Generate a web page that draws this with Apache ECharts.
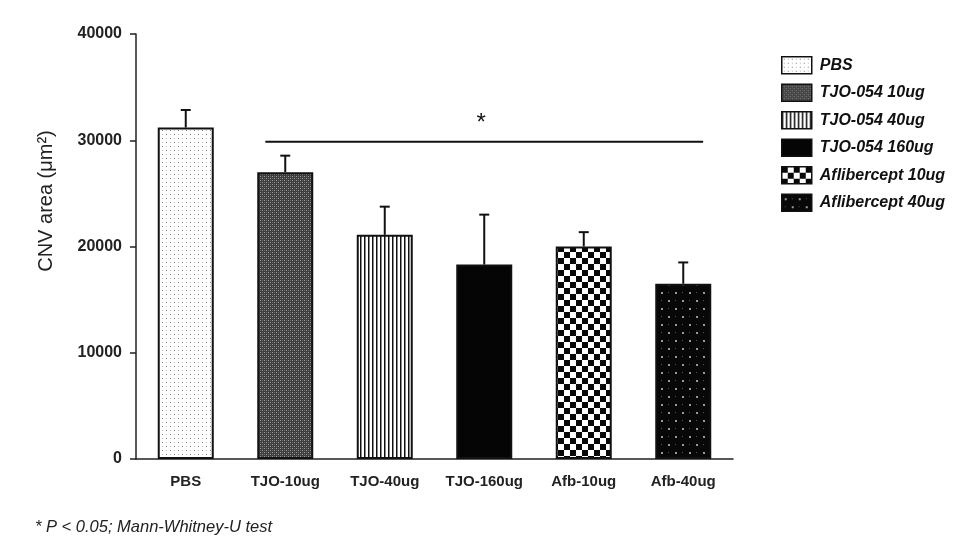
<!DOCTYPE html>
<html>
<head>
<meta charset="utf-8">
<script src="https://cdn.jsdelivr.net/npm/echarts@6/dist/echarts.min.js"></script>
<style>
html,body{margin:0;padding:0;background:#fff;}
#chart{width:970px;height:549px;}
</style>
</head>
<body>
<div id="chart"></div>
<script>
// ---- data ----
const categories = ['PBS', 'TJO-10ug', 'TJO-40ug', 'TJO-160ug', 'Afb-10ug', 'Afb-40ug'];
const seriesNames = ['PBS', 'TJO-054 10ug', 'TJO-054 40ug', 'TJO-054 160ug', 'Aflibercept 10ug', 'Aflibercept 40ug'];
const means = [31200, 27000, 21100, 18300, 20000, 16500];
const errors = [1650, 1550, 2650, 4700, 1350, 2000];
const yTicks = [0, 10000, 20000, 30000, 40000];
const sigFrom = 'TJO-10ug';
const sigTo = 'Afb-40ug';
const sigValue = 29850;
const sigLabel = '*';
const footnote = '* P < 0.05; Mann-Whitney-U test';
const yAxisTitle = 'CNV area (\u03bcm\u00b2)';

// ---- patterns ----
function tile(w, h, draw) {
  const c = document.createElement('canvas');
  c.width = w; c.height = h;
  const g = c.getContext('2d');
  draw(g);
  return { image: c, repeat: 'repeat' };
}
const patterns = [
  tile(8, 8, g => { g.fillStyle = '#fff'; g.fillRect(0,0,8,8); g.fillStyle = '#7a7a7a'; g.fillRect(2,2,1,1); g.fillRect(6,6,1,1); g.fillStyle='#bbb'; g.fillRect(6,2,1,1); g.fillRect(2,6,1,1);}),
  tile(4, 4, g => { g.fillStyle = '#3e3e3e'; g.fillRect(0,0,4,4); g.fillStyle = '#9a9a9a'; g.fillRect(0,0,1,1); g.fillRect(2,2,1,1); g.fillStyle='#6a6a6a'; g.fillRect(2,0,1,1); g.fillRect(0,2,1,1);}),
  tile(4, 4, g => { g.fillStyle = '#fff'; g.fillRect(0,0,4,4); g.fillStyle = '#111'; g.fillRect(0,0,1,4); g.fillStyle = '#888'; g.fillRect(1,0,1,4);}),
  '#050505',
  tile(12, 12, g => { g.fillStyle = '#fff'; g.fillRect(0,0,12,12); g.fillStyle = '#080808'; g.fillRect(0,0,6,6); g.fillRect(6,6,6,6);}),
  tile(14, 16, g => { g.fillStyle = '#080808'; g.fillRect(0,0,14,16); g.fillStyle = '#9a9a9a'; g.fillRect(3,4,2,2); g.fillRect(10,12,2,2); g.fillStyle='#555'; g.fillRect(10,4,1,1); g.fillRect(3,12,1,1);})
];

const FONT = 'Liberation Sans, Arial, sans-serif';

const barSeries = seriesNames.map((name, i) => ({
  name: name,
  type: 'bar',
  barWidth: 56,
  barGap: '-100%',
  data: categories.map((c, j) => (j === i ? means[i] : null)),
  itemStyle: { color: patterns[i], borderColor: '#111', borderWidth: 2 },
  emphasis: { disabled: true },
  z: 2
}));

const errorSeries = {
  type: 'custom',
  name: 'err',
  z: 3,
  data: categories.map((c, i) => [i, means[i], errors[i]]),
  encode: { x: 0, y: 1 },
  renderItem: function (params, api) {
    const x = api.value(0), m = api.value(1), e = api.value(2);
    const p0 = api.coord([x, m]);
    const p1 = api.coord([x, m + e]);
    const cap = 5;
    const st = { stroke: '#111', lineWidth: 2 };
    return {
      type: 'group',
      children: [
        { type: 'line', shape: { x1: p0[0], y1: p0[1], x2: p1[0], y2: p1[1] }, style: st },
        { type: 'line', shape: { x1: p1[0] - cap, y1: p1[1], x2: p1[0] + cap, y2: p1[1] }, style: st }
      ]
    };
  }
};

const sigSeries = {
  type: 'custom',
  name: 'sig',
  z: 3,
  data: [[categories.indexOf(sigFrom), categories.indexOf(sigTo), sigValue]],
  encode: { x: [0, 1], y: 2 },
  renderItem: function (params, api) {
    const a = api.coord([api.value(0), api.value(2)]);
    const b = api.coord([api.value(1), api.value(2)]);
    const band = api.size([1, 0])[0];
    const x1 = a[0] - band * 0.2, x2 = b[0] + band * 0.2;
    return {
      type: 'group',
      children: [
        { type: 'line', shape: { x1: x1, y1: a[1], x2: x2, y2: a[1] }, style: { stroke: '#111', lineWidth: 2 } },
        { type: 'text', x: (x1 + x2) / 2 - 3, y: a[1] - 6, style: { text: sigLabel, font: '24px ' + FONT, fill: '#111', align: 'center', verticalAlign: 'bottom' } }
      ]
    };
  }
};

const chart = echarts.init(document.getElementById('chart'));
chart.setOption({
  animation: false,
  backgroundColor: '#fff',
  textStyle: { fontFamily: FONT },
  grid: { left: 136, right: 237, top: 34, bottom: 90 },
  legend: {
    data: seriesNames.map(n => ({ name: n, icon: 'rect' })),
    orient: 'vertical',
    left: 781,
    top: 56,
    padding: 0,
    itemWidth: 30,
    itemHeight: 17,
    itemGap: 9,
    selectedMode: false,
    textStyle: { fontSize: 16, fontStyle: 'italic', fontWeight: 'bold', color: '#111', fontFamily: FONT, padding: [0, 0, 0, 3] },
    itemStyle: { borderColor: '#111', borderWidth: 1.5 }
  },
  xAxis: {
    type: 'category',
    data: categories,
    axisLine: { lineStyle: { color: '#222', width: 1.5 } },
    axisTick: { show: false },
    axisLabel: { interval: 0, fontSize: 15, fontWeight: 'bold', color: '#222', margin: 15 },
    splitLine: { show: false }
  },
  yAxis: {
    type: 'value',
    min: yTicks[0],
    max: yTicks[yTicks.length - 1],
    interval: yTicks[1] - yTicks[0],
    axisLine: { show: true, lineStyle: { color: '#222', width: 1.5 } },
    axisTick: { show: true, length: 6, lineStyle: { color: '#222', width: 1.5 } },
    axisLabel: { fontSize: 16, fontWeight: 'bold', color: '#222', margin: 14, formatter: v => String(v) },
    splitLine: { show: false }
  },
  graphic: [
    { type: 'text', x: 46, y: 201, rotation: Math.PI / 2, style: { text: yAxisTitle, font: '20px ' + FONT, fill: '#222', align: 'center', verticalAlign: 'middle' } },
    { type: 'text', left: 35, top: 519, style: { text: footnote, font: 'italic 16.5px ' + FONT, fill: '#222' } }
  ],
  series: barSeries.concat([errorSeries, sigSeries])
});
</script>
</body>
</html>
